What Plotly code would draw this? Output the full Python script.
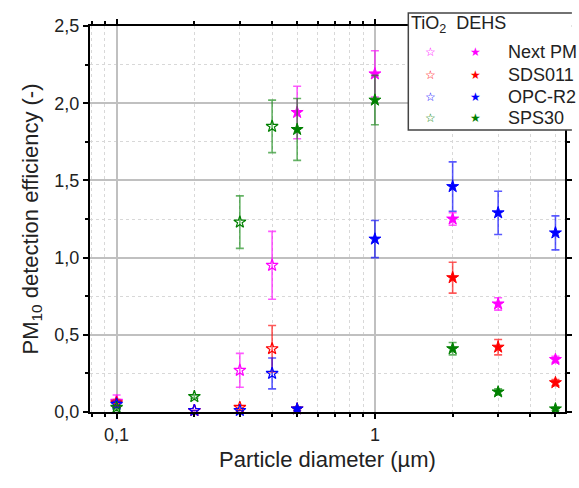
import plotly.graph_objects as go

# ---- data ----
x_tio2 = [0.1, 0.2, 0.3, 0.4]
x_dehs = [0.5, 1, 2, 3, 5]
instruments = ["Next PM", "SDS011", "OPC-R2", "SPS30"]
colors = ["#ff00ff", "#ff0000", "#0000ff", "#008000"]
err_colors = ["rgba(255,0,255,0.65)", "rgba(255,0,0,0.65)", "rgba(0,0,255,0.65)", "rgba(0,128,0,0.6)"]

tio2_vals = {
    "Next PM": [0.07, 0.01, 0.27, 0.95],
    "SDS011": [0.06, 0.01, 0.03, 0.41],
    "OPC-R2": [0.05, 0.01, 0.01, 0.25],
    "SPS30": [0.03, 0.10, 1.23, 1.85],
}
tio2_err = {
    "Next PM": [0.04, 0.0, 0.11, 0.22],
    "SDS011": [0.02, 0.0, 0.01, 0.15],
    "OPC-R2": [0.02, 0.0, 0.0, 0.10],
    "SPS30": [0.01, 0.01, 0.17, 0.17],
}
dehs_vals = {
    "Next PM": [1.94, 2.19, 1.25, 0.70, 0.34],
    "SDS011": [0.02, None, 0.87, 0.42, 0.19],
    "OPC-R2": [0.02, 1.12, 1.46, 1.29, 1.16],
    "SPS30": [1.83, 2.02, 0.41, 0.13, 0.02],
}
dehs_err = {
    "Next PM": [0.17, 0.15, 0.04, 0.04, 0.02],
    "SDS011": [0.01, 0.0, 0.10, 0.05, 0.02],
    "OPC-R2": [0.01, 0.12, 0.16, 0.14, 0.11],
    "SPS30": [0.20, 0.16, 0.04, 0.02, 0.01],
}
y_ticks = [0.0, 0.5, 1.0, 1.5, 2.0, 2.5]
x_tickvals = [0.1, 1]
x_ticktext = ["0,1", "1"]

FONT = "Liberation Sans, Arial, sans-serif"
W, H = 579, 488
L, R, T, B = 90, 7, 26, 76
pw, ph = W - L - R, H - T - B

fig = go.Figure()
for name, c, ec in zip(instruments, colors, err_colors):
    fig.add_trace(go.Scatter(
        x=x_tio2, y=tio2_vals[name], mode="markers", name=name + " TiO2",
        marker=dict(symbol="star-open", size=9, color=c, line=dict(width=1.2, color=c)),
        error_y=dict(type="data", array=tio2_err[name], color=ec, thickness=1.6, width=4),
        showlegend=False, cliponaxis=False))
for name, c, ec in zip(instruments, colors, err_colors):
    fig.add_trace(go.Scatter(
        x=x_dehs, y=dehs_vals[name], mode="markers", name=name + " DEHS",
        marker=dict(symbol="star", size=9, color=c, line=dict(width=1, color=c)),
        error_y=dict(type="data", array=dehs_err[name], color=ec, thickness=1.6, width=4),
        showlegend=False, cliponaxis=False))

axis_common = dict(
    showline=True, linecolor="black", linewidth=2, mirror="ticks",
    ticks="outside", ticklen=5, tickwidth=1.5, tickcolor="black",
    showgrid=True, gridcolor="#c0c0c0", gridwidth=1.5, zeroline=False,
    tickfont=dict(family=FONT, size=18, color="#222"),
)

fig.update_layout(
    width=W, height=H,
    margin=dict(l=L, r=R, t=T, b=B, pad=0),
    paper_bgcolor="white", plot_bgcolor="white",
    separators=",.",
    font=dict(family=FONT, color="#222"),
    xaxis=dict(
        type="log", range=[-1.103, 0.736],
        tickvals=x_tickvals, ticktext=x_ticktext,
        title=dict(text="Particle diameter (µm)", font=dict(family=FONT, size=22, color="#222"), standoff=8),
        minor=dict(dtick="D1", showgrid=True, gridcolor="#d8d8d8", griddash="dot", gridwidth=1,
                   ticks="outside", ticklen=3, tickcolor="black"),
        **axis_common),
    yaxis=dict(
        range=[0, 2.5], tickvals=y_ticks, tickformat=".1f",
        title=dict(text="PM<sub>10</sub> detection efficiency (-)", font=dict(family=FONT, size=22, color="#222"), standoff=10),
        minor=dict(dtick=0.25, showgrid=True, gridcolor="#d8d8d8", griddash="dot", gridwidth=1,
                   ticks="outside", ticklen=3, tickcolor="black"),
        **axis_common),
)

def px(xp):
    return (xp - L) / pw

def py(yp):
    return (H - B - yp) / ph

# legend box: white fill, border only on left / top / bottom (right side runs off the page)
fig.add_shape(type="rect", xref="paper", yref="paper",
              x0=px(413), x1=px(579), y0=py(130), y1=py(13),
              line=dict(width=0), fillcolor="white", layer="above")
fig.add_shape(type="path", xref="paper", yref="paper",
              path=f"M {px(579)},{py(13)} L {px(413)},{py(13)} L {px(413)},{py(130)} L {px(579)},{py(130)}",
              line=dict(color="#444", width=1.5), layer="above")

fig.add_annotation(xref="paper", yref="paper", x=px(414), y=py(25), xanchor="left", yanchor="middle",
                   text="TiO<sub>2</sub>  DEHS", showarrow=False,
                   font=dict(family=FONT, size=18, color="#222"))
row_y = [52, 75, 97, 118]
for name, c, ry in zip(instruments, colors, row_y):
    fig.add_annotation(xref="paper", yref="paper", x=px(436), y=py(ry), xanchor="center", yanchor="middle",
                       text="☆", showarrow=False, font=dict(family="DejaVu Sans", size=12, color=c))
    fig.add_annotation(xref="paper", yref="paper", x=px(481), y=py(ry), xanchor="center", yanchor="middle",
                       text="★", showarrow=False, font=dict(family="DejaVu Sans", size=12, color=c))
    fig.add_annotation(xref="paper", yref="paper", x=px(512), y=py(ry), xanchor="left", yanchor="middle",
                       text=name, showarrow=False, font=dict(family=FONT, size=18, color="#222"))

fig.write_html("out.html")
